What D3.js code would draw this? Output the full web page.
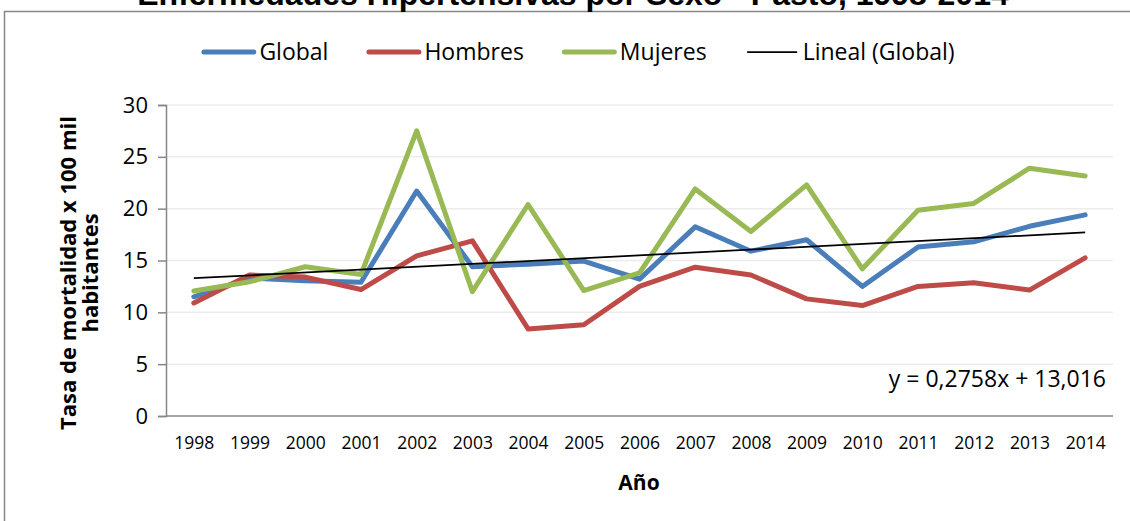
<!DOCTYPE html>
<html>
<head>
<meta charset="utf-8">
<script src="https://cdn.jsdelivr.net/npm/d3@7"></script>
<style>
  html, body { margin: 0; background: #fff; overflow: hidden; }
  svg { display: block; }
  text { font-family: "Open Sans", sans-serif; fill: #000; }
</style>
</head>
<body>
<svg id="chart"></svg>
<script>
// chart data
let years = ["1998", "1999", "2000", "2001", "2002", "2003", "2004", "2005", "2006",
  "2007", "2008", "2009", "2010", "2011", "2012", "2013", "2014"];
let globalRate = [11.5, 13.3, 13.05, 12.9, 21.7, 14.4, 14.65, 14.95, 13.2, 18.25, 15.9, 17.0, 12.5, 16.3, 16.8, 18.3, 19.4];
let hombresRate = [10.9, 13.6, 13.4, 12.2, 15.45, 16.9, 8.4, 8.8, 12.5, 14.35, 13.6, 11.3, 10.65, 12.5, 12.85, 12.15, 15.25];
let mujeresRate = [12.05, 12.95, 14.4, 13.65, 27.5, 12.0, 20.4, 12.1, 13.8, 21.9, 17.8, 22.3, 14.2, 19.85, 20.5, 23.9, 23.15];
let yTicks = [0, 5, 10, 15, 20, 25, 30];
// linear trend of Global, as printed on the chart
let trendSlope = 0.2758;
let trendIntercept = 13.016;
let trendLabel = "y = 0,2758x + 13,016";

let seriesNames = ["Global", "Hombres", "Mujeres"];
let seriesColors = ["#4a7ebb", "#be4b48", "#98b954"];

let width = 1130, height = 521;
let plot = {left: 166, right: 1113, top: 105, bottom: 416};

let svg = d3.select("#chart")
  .attr("width", width)
  .attr("height", height);

svg.append("rect")
  .attr("width", width)
  .attr("height", height)
  .attr("fill", "#fff");

// chart frame: only the top and left edges show in the source
svg.append("path")
  .attr("d", "M4.5," + height + "V11.5H" + width)
  .attr("fill", "none")
  .attr("stroke", "#868686")
  .attr("stroke-width", 1.5);

// title, cut off by the top edge like in the source
svg.append("text")
  .attr("x", 573)
  .attr("y", 5)
  .attr("text-anchor", "middle")
  .style("font-family", "'Liberation Sans', Arial, sans-serif")
  .style("font-weight", "bold")
  .style("font-size", "32px")
  .text("Enfermedades Hipertensivas por Sexo - Pasto, 1998-2014");

let x = d3.scalePoint()
  .domain(years)
  .range([plot.left, plot.right])
  .padding(0.5);

let y = d3.scaleLinear()
  .domain([0, 30])
  .range([plot.bottom, plot.top]);

// gridlines
svg.append("g")
  .selectAll("line")
  .data(yTicks.filter(d => d > 0))
  .enter().append("line")
  .attr("x1", plot.left)
  .attr("x2", plot.right)
  .attr("y1", d => y(d))
  .attr("y2", d => y(d))
  .attr("stroke", "#ececec")
  .attr("stroke-width", 1.5);

// y axis
let yAxis = svg.append("g")
  .attr("transform", "translate(" + plot.left + ",0)")
  .call(d3.axisLeft(y).tickValues(yTicks).tickSize(8).tickPadding(10));
yAxis.select(".domain").attr("stroke", "#868686").attr("stroke-width", 1.5);
yAxis.selectAll(".tick line").attr("stroke", "#868686").attr("stroke-width", 1.5);
yAxis.selectAll(".tick text")
  .style("font-family", "'Open Sans', sans-serif")
  .style("font-size", "22px")
  .attr("fill", "#000");

// x axis
let xAxis = svg.append("g")
  .attr("transform", "translate(0," + plot.bottom + ")")
  .call(d3.axisBottom(x).tickSize(0).tickPadding(21));
xAxis.select(".domain")
  .attr("d", "M" + plot.left + ",0H" + plot.right)
  .attr("stroke", "#868686").attr("stroke-width", 1.5);
xAxis.selectAll(".tick text")
  .style("font-family", "'Open Sans', sans-serif")
  .style("font-size", "17.5px")
  .attr("fill", "#000");

// axis titles
svg.append("text")
  .attr("x", 639)
  .attr("y", 490)
  .attr("text-anchor", "middle")
  .style("font-weight", "bold")
  .style("font-size", "21px")
  .text("Año");

let yTitle = ["Tasa de mortalidad x 100 mil", "habitantes"];
svg.append("g")
  .selectAll("text")
  .data(yTitle)
  .enter().append("text")
  .attr("transform", (d, i) => "translate(" + (76 + i * 22) + ",273) rotate(-90)")
  .attr("text-anchor", "middle")
  .style("font-weight", "bold")
  .style("font-size", "22px")
  .text(d => d);

// data lines
let series = [globalRate, hombresRate, mujeresRate];
let line = d3.line()
  .x((d, i) => x(years[i]))
  .y(d => y(d));

svg.append("g")
  .selectAll("path")
  .data(series)
  .enter().append("path")
  .attr("d", line)
  .attr("fill", "none")
  .attr("stroke", (d, i) => seriesColors[i])
  .attr("stroke-width", 5)
  .attr("stroke-linejoin", "round")
  .attr("stroke-linecap", "round");

// trend line for Global
let trend = [1, years.length].map(n => ({year: years[n - 1], value: trendSlope * n + trendIntercept}));
svg.append("line")
  .attr("x1", x(trend[0].year))
  .attr("y1", y(trend[0].value))
  .attr("x2", x(trend[1].year))
  .attr("y2", y(trend[1].value))
  .attr("stroke", "#000")
  .attr("stroke-width", 1.75);

svg.append("text")
  .attr("x", 1106)
  .attr("y", 387)
  .attr("text-anchor", "end")
  .style("font-size", "23px")
  .text(trendLabel);

// legend
let legendItems = seriesNames.map((name, i) => ({name: name, color: seriesColors[i], w: 5}))
  .concat([{name: "Lineal (Global)", color: "#000", w: 1.75}]);

let legend = svg.append("g");
let lx = 0;
legendItems.forEach(function(item) {
  let g = legend.append("g").attr("transform", "translate(" + lx + ",0)");
  g.append("line")
    .attr("x1", 2.5).attr("x2", 52.5)
    .attr("y1", 0).attr("y2", 0)
    .attr("stroke", item.color)
    .attr("stroke-width", item.w)
    .attr("stroke-linecap", item.w > 2 ? "round" : "butt");
  let t = g.append("text")
    .attr("x", 58)
    .attr("y", 0)
    .attr("dy", "0.35em")
    .style("font-size", "23px")
    .text(item.name);
  lx += 58 + t.node().getComputedTextLength() + 38;
});
let legendWidth = lx - 38;
legend.attr("transform", "translate(" + (578 - legendWidth / 2) + ",52)");
</script>
</body>
</html>
